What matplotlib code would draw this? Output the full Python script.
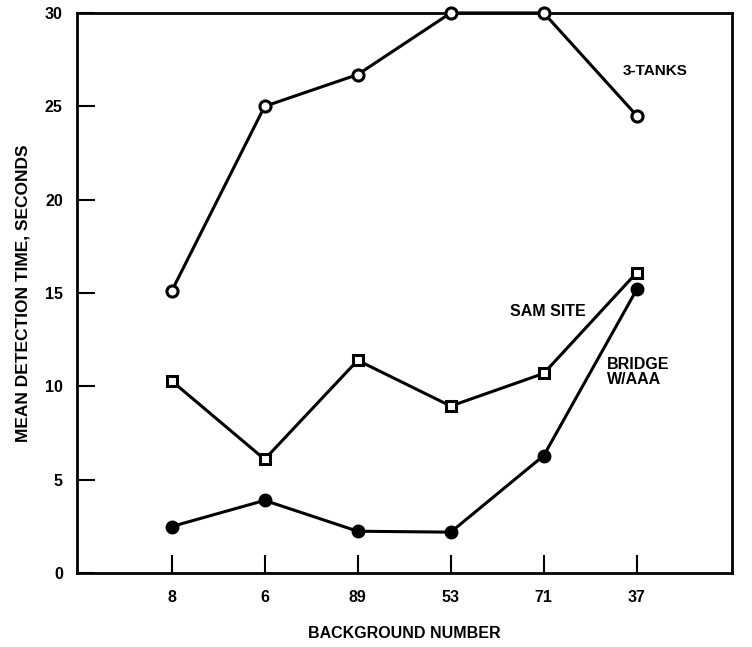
import matplotlib.pyplot as plt
import numpy as np

backgrounds = ['8', '6', '89', '53', '71', '37']
tanks = [15.1, 25.0, 26.7, 30.0, 30.0, 24.5]
sam_site = [10.3, 6.1, 11.4, 8.95, 10.7, 16.1]
bridge = [2.5, 3.9, 2.25, 2.2, 6.3, 15.2]
yticks = [0, 5, 10, 15, 20, 25, 30]

plt.rcParams['font.family'] = ['Liberation Sans', 'DejaVu Sans']
plt.rcParams['font.weight'] = 'bold'

fig = plt.figure(figsize=(7.52, 6.47), dpi=100)
ax = fig.add_axes([0.102, 0.114, 0.871, 0.866])

x = np.arange(len(backgrounds))
ax.plot(x, tanks, color='black', lw=2.2, marker='o', ms=8, mfc='white', mec='black', mew=2.2, clip_on=False, zorder=3)
ax.plot(x, sam_site, color='black', lw=2.2, marker='s', ms=7, mfc='white', mec='black', mew=2.2, clip_on=False, zorder=3)
ax.plot(x, bridge, color='black', lw=2.2, marker='o', ms=9, mfc='black', mec='black', clip_on=False, zorder=3)

ax.text(5.2, 26.9, '3-TANKS', ha='center', va='center', fontsize=11, fontweight='bold')
ax.text(4.04, 14.0, 'SAM SITE', ha='center', va='center', fontsize=11.5, fontweight='bold')
ax.text(4.68, 10.8, 'BRIDGE\nW/AAA', ha='left', va='center', fontsize=11.5, fontweight='bold', linespacing=1.0)

ax.set_xlim(-1.02, 6.02)
ax.set_ylim(0, 30)
ax.set_xticks(x)
ax.set_xticklabels(backgrounds)
ax.set_yticks(yticks)
ax.tick_params(axis='x', direction='in', length=13, width=1.5, labelsize=11.5, pad=12)
ax.tick_params(axis='y', direction='in', length=13, width=1.5, labelsize=11.5, pad=10)
for side in ['left', 'right', 'top', 'bottom']:
    ax.spines[side].set_linewidth(2)

ax.set_xlabel('BACKGROUND NUMBER', fontsize=11.5, fontweight='bold', labelpad=15)
ax.set_ylabel('MEAN DETECTION TIME, SECONDS', fontsize=12.5, fontweight='bold', labelpad=10)

fig.savefig('out.png', dpi=100)
